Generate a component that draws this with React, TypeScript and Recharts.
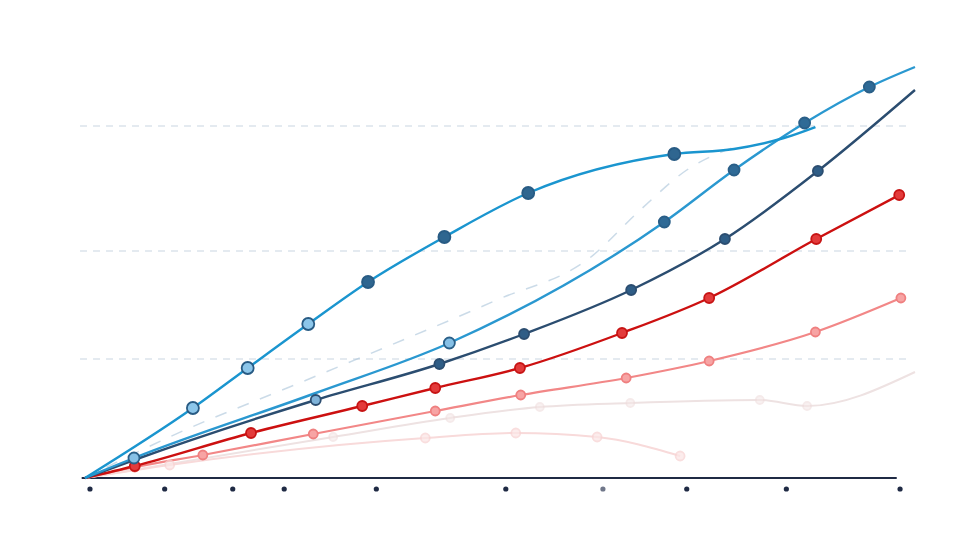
import { LineChart, Line, XAxis, YAxis, ReferenceLine } from "recharts";

type Pt = { x: number; y: number };

// x runs 0..100 across the plot, y 0..105 (no labels in the picture, values read off by eye)
const tickValues = [0.6, 9.6, 17.8, 24.0, 35.1, 50.7, 62.4, 72.5, 84.5, 98.2];
const gridValues = [29.75, 56.75, 88];

const arcBlue: Pt[] = [
  { x: 0, y: 0 },
  { x: 13.0, y: 17.5 },
  { x: 19.6, y: 27.5 },
  { x: 26.9, y: 38.5 },
  { x: 34.1, y: 49 },
  { x: 43.3, y: 60.25 },
  { x: 53.4, y: 71.25 },
  { x: 71.0, y: 81 },
  { x: 78.2, y: 82.25 },
  { x: 84.2, y: 85 },
  { x: 88.0, y: 87.75 },
];

const riseBlue: Pt[] = [
  { x: 0, y: 0 },
  { x: 5.9, y: 5 },
  { x: 27.8, y: 21.25 },
  { x: 43.9, y: 33.75 },
  { x: 69.8, y: 64 },
  { x: 78.2, y: 77 },
  { x: 86.7, y: 88.75 },
  { x: 94.5, y: 97.75 },
  { x: 100, y: 102.75 },
];

const navy: Pt[] = [
  { x: 0, y: 0 },
  { x: 5.9, y: 4.5 },
  { x: 27.8, y: 19.5 },
  { x: 42.7, y: 28.5 },
  { x: 52.9, y: 36 },
  { x: 65.8, y: 47 },
  { x: 77.1, y: 59.75 },
  { x: 88.3, y: 76.75 },
  { x: 100, y: 97 },
];

const red: Pt[] = [
  { x: 0, y: 0 },
  { x: 6.0, y: 3 },
  { x: 20, y: 11.25 },
  { x: 33.4, y: 18 },
  { x: 42.2, y: 22.5 },
  { x: 52.4, y: 27.5 },
  { x: 64.7, y: 36.25 },
  { x: 75.2, y: 45 },
  { x: 88.1, y: 59.75 },
  { x: 98.1, y: 70.75 },
];

const salmon: Pt[] = [
  { x: 0, y: 0 },
  { x: 6.0, y: 2.75 },
  { x: 14.2, y: 5.75 },
  { x: 27.5, y: 11 },
  { x: 42.2, y: 16.75 },
  { x: 52.5, y: 20.75 },
  { x: 65.2, y: 25 },
  { x: 75.2, y: 29.25 },
  { x: 88.0, y: 36.5 },
  { x: 98.3, y: 45 },
];

const palePink: Pt[] = [
  { x: 0, y: 0 },
  { x: 10.2, y: 3.25 },
  { x: 41, y: 10 },
  { x: 51.9, y: 11.25 },
  { x: 61.7, y: 10.25 },
  { x: 71.7, y: 5.5 },
];

const paleGray: Pt[] = [
  { x: 0, y: 0 },
  { x: 29.9, y: 10.25 },
  { x: 44, y: 15 },
  { x: 54.8, y: 17.75 },
  { x: 65.7, y: 18.75 },
  { x: 81.3, y: 19.5 },
  { x: 87, y: 18 },
  { x: 100, y: 26.5 },
];

const ghostBlue: Pt[] = [
  { x: 0, y: 0 },
  { x: 9.9, y: 10 },
  { x: 26.7, y: 24.5 },
  { x: 49.6, y: 44.5 },
  { x: 60.8, y: 55 },
  { x: 66.9, y: 67 },
  { x: 72.5, y: 77 },
  { x: 78.9, y: 83.25 },
];

type DotStyle = {
  fill: string;
  stroke: string;
  r: number;
  skip: number[];
  light?: number[];
  lightFill?: string;
  opacity?: number;
};

function makeDot(s: DotStyle) {
  return (props: any) => {
    const { cx, cy, index } = props;
    if (s.skip.includes(index) || cx == null) {
      return <g key={`d-${index}`} />;
    }
    const light = s.light?.includes(index);
    return (
      <circle
        key={`d-${index}`}
        cx={cx}
        cy={cy}
        r={s.r}
        fill={light ? s.lightFill : s.fill}
        stroke={s.stroke}
        strokeWidth={1.8}
        opacity={s.opacity ?? 1}
      />
    );
  };
}

function TickDot(props: any) {
  const { x, y, index } = props;
  const c = index === 6 ? "#70778a" : "#1f2a44";
  return <circle cx={x} cy={y + 3} r={2.6} fill={c} />;
}

export default function App() {
  return (
    <div
      style={{
        position: "fixed",
        left: 0,
        top: 0,
        width: 980,
        height: 549,
        background: "#fff",
      }}
    >
      <LineChart
        width={980}
        height={549}
        margin={{ top: 58, right: 65, left: 85, bottom: 41 }}
      >
        <XAxis
          type="number"
          dataKey="x"
          domain={[0, 100]}
          ticks={tickValues}
          axisLine={false}
          tickLine={false}
          height={30}
          tick={<TickDot />}
        />
        <YAxis type="number" dataKey="y" domain={[0, 105]} hide />
        {gridValues.map((g) => (
          <ReferenceLine
            key={g}
            ifOverflow="visible"
            segment={[
              { x: -0.6, y: g },
              { x: 99.4, y: g },
            ]}
            stroke="#c9d6e2"
            strokeWidth={1.2}
            strokeDasharray="7 6"
          />
        ))}
        <ReferenceLine
          ifOverflow="visible"
          segment={[
            { x: -0.4, y: 0 },
            { x: 97.8, y: 0 },
          ]}
          stroke="#1f2a44"
          strokeWidth={2}
        />
        <Line
          data={paleGray}
          dataKey="y"
          type="monotone"
          stroke="#eee2e2"
          strokeWidth={2}
          dot={makeDot({ fill: "#f5e8e8", stroke: "#efdddd", r: 4, skip: [0, 7], opacity: 0.6 })}
          isAnimationActive={false}
        />
        <Line
          data={palePink}
          dataKey="y"
          type="monotone"
          stroke="#f8dada"
          strokeWidth={2}
          dot={makeDot({ fill: "#fbe6e6", stroke: "#f8d4d4", r: 4.5, skip: [0], opacity: 0.75 })}
          isAnimationActive={false}
        />
        <Line
          data={ghostBlue}
          dataKey="y"
          type="monotone"
          stroke="#a9c3d9"
          strokeWidth={1.5}
          strokeDasharray="12 12"
          strokeOpacity={0.6}
          dot={false}
          isAnimationActive={false}
        />
        <Line
          data={salmon}
          dataKey="y"
          type="monotone"
          stroke="#f28787"
          strokeWidth={2.2}
          dot={makeDot({ fill: "#f7a4a4", stroke: "#ef8080", r: 4.5, skip: [0] })}
          isAnimationActive={false}
        />
        <Line
          data={red}
          dataKey="y"
          type="monotone"
          stroke="#cc1010"
          strokeWidth={2.4}
          dot={makeDot({ fill: "#e33b3b", stroke: "#c71414", r: 5, skip: [0] })}
          isAnimationActive={false}
        />
        <Line
          data={navy}
          dataKey="y"
          type="monotone"
          stroke="#2b4d70"
          strokeWidth={2.4}
          dot={makeDot({ fill: "#2f5d86", stroke: "#2b4d70", r: 5, skip: [0, 1, 8], light: [2], lightFill: "#7fb3d9" })}
          isAnimationActive={false}
        />
        <Line
          data={riseBlue}
          dataKey="y"
          type="monotone"
          stroke="#2a98d0"
          strokeWidth={2.4}
          dot={makeDot({ fill: "#2f6a96", stroke: "#2a5f88", r: 5.5, skip: [0, 2, 8], light: [1, 3], lightFill: "#86c0e6" })}
          isAnimationActive={false}
        />
        <Line
          data={arcBlue}
          dataKey="y"
          type="monotone"
          stroke="#1a95cf"
          strokeWidth={2.4}
          dot={makeDot({ fill: "#2f6690", stroke: "#285b84", r: 6, skip: [0, 8, 9, 10], light: [1, 2, 3], lightFill: "#8cc6ea" })}
          isAnimationActive={false}
        />
      </LineChart>
    </div>
  );
}
